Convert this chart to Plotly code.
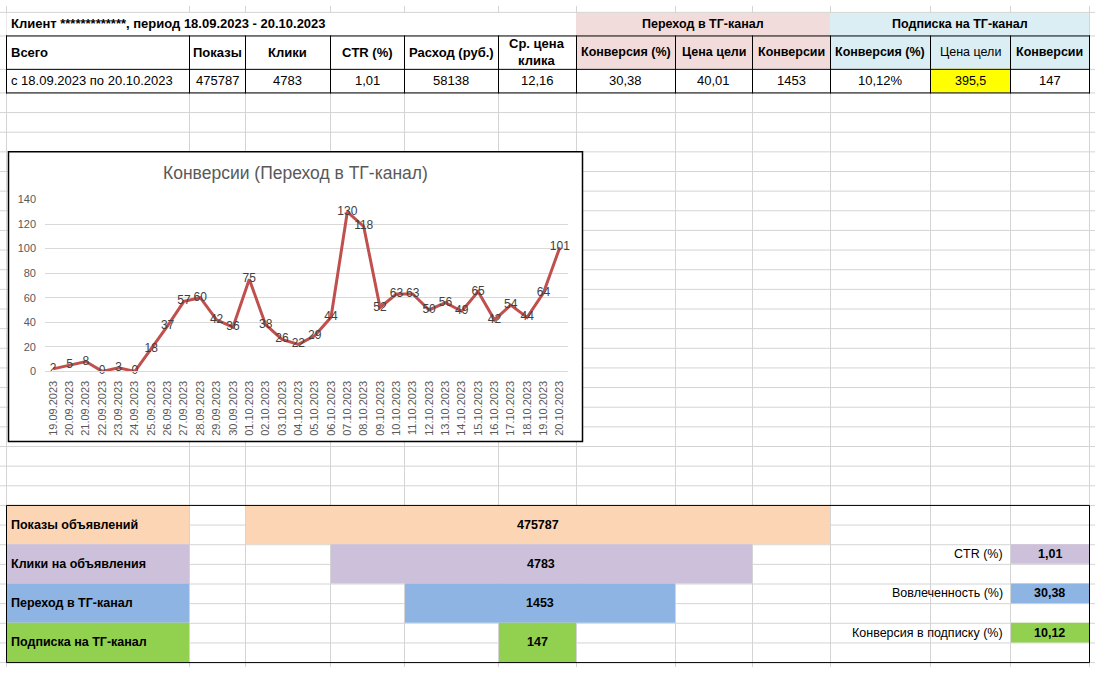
import plotly.graph_objects as go

W, H = 1095, 673

# ---------------- data ----------------
dates = ["19.09.2023", "20.09.2023", "21.09.2023", "22.09.2023", "23.09.2023", "24.09.2023",
         "25.09.2023", "26.09.2023", "27.09.2023", "28.09.2023", "29.09.2023", "30.09.2023",
         "01.10.2023", "02.10.2023", "03.10.2023", "04.10.2023", "05.10.2023", "06.10.2023",
         "07.10.2023", "08.10.2023", "09.10.2023", "10.10.2023", "11.10.2023", "12.10.2023",
         "13.10.2023", "14.10.2023", "15.10.2023", "16.10.2023", "17.10.2023", "18.10.2023",
         "19.10.2023", "20.10.2023"]
conversions = [2, 5, 8, 0, 3, 0, 18, 37, 57, 60, 42, 36, 75, 38, 26, 22, 29, 44,
               130, 118, 52, 63, 63, 50, 56, 49, 65, 42, 54, 44, 64, 101]
chart_title = "Конверсии (Переход в ТГ-канал)"

report_title = "Клиент *************, период 18.09.2023 - 20.10.2023"
group_headers = ["Переход в ТГ-канал", "Подписка на ТГ-канал"]
column_headers = ["Всего", "Показы", "Клики", "CTR (%)", "Расход (руб.)", "Ср. цена<br>клика",
                  "Конверсия (%)", "Цена цели", "Конверсии", "Конверсия (%)", "Цена цели", "Конверсии"]
row_values = ["с 18.09.2023 по 20.10.2023", "475787", "4783", "1,01", "58138", "12,16",
              "30,38", "40,01", "1453", "10,12%", "395,5", "147"]

funnel_labels = ["Показы объявлений", "Клики на объявления", "Переход в ТГ-канал", "Подписка на ТГ-канал"]
funnel_values = [475787, 4783, 1453, 147]
ratio_labels = ["CTR (%)", "Вовлеченность (%)", "Конверсия в подписку (%)"]
ratio_values = ["1,01", "30,38", "10,12"]

# ---------------- layout geometry (sheet pixels) ----------------
COLS = [6, 189, 245, 330, 404, 498, 576, 675, 752, 830, 930, 1010, 1089]
GRID_ROWS = [6, 30, 64, 88] + list(range(108, 669, 20))
GRID = "#D4D4D4"
BLACK = "#000000"
PINK, LBLUE, YELLOW = "#F2DCDB", "#DAEEF3", "#FFFF00"
FUNNEL_COLORS = ["#FCD5B4", "#CCC0DA", "#8DB4E2", "#92D050"]
FUNNEL_SPANS = [(245, 830), (330, 752), (404, 675), (498, 576)]
FUNNEL_TOP = 508
RATIO_ROWS = [548, 588, 628]
SANS = "Liberation Sans, Arial, sans-serif"

shapes = []


def line(x0, y0, x1, y1, color, width=1):
    shapes.append(dict(type="line", xref="x", yref="y", x0=x0, y0=y0, x1=x1, y1=y1,
                       line=dict(color=color, width=width), layer="below"))


def rect(x0, y0, x1, y1, fill, border=None, bw=1):
    shapes.append(dict(type="rect", xref="x", yref="y", x0=x0, y0=y0, x1=x1, y1=y1,
                       fillcolor=fill, line=dict(color=border or fill, width=bw if border else 0),
                       layer="below"))


# sheet gridlines
for c in COLS:
    line(c + 0.5, 0, c + 0.5, H, GRID)
for r in GRID_ROWS:
    line(0, r + 0.5, W, r + 0.5, GRID)

# title row
rect(6.5, 7, 576, 30, "white")
rect(576, 7, 830, 64, PINK)
rect(830, 7, 1089, 64, LBLUE)
rect(6.5, 31, 576, 64, "white")
rect(6.5, 65, 1089, 88, "white")
rect(930, 64, 1010, 88, YELLOW)
for r in [30, 64, 88]:
    line(6, r + 0.5, 1090, r + 0.5, BLACK)
for c in COLS:
    line(c + 0.5, 30, c + 0.5, 89, BLACK)

# chart box
rect(8.5, 148.5, 582.5, 443.5, "white", BLACK, 1.5)

# funnel block
for i, (lab, col) in enumerate(zip(funnel_labels, FUNNEL_COLORS)):
    y0 = FUNNEL_TOP + 40 * i
    rect(6.5, y0, 189, y0 + 40, col)
    x0, x1 = FUNNEL_SPANS[i]
    rect(x0 + 1, y0, x1, y0 + 40, col)
for i, r in enumerate(RATIO_ROWS):
    rect(1011, r, 1089, r + 20, FUNNEL_COLORS[i + 1])
rect(6.5, FUNNEL_TOP + 0.5, 1089.5, FUNNEL_TOP + 160.5, "rgba(0,0,0,0)", BLACK, 1)

# ---------------- annotations ----------------
annotations = []


def text(x, y, s, size=13, bold=False, anchor="center", color="#000000", family=SANS):
    annotations.append(dict(xref="x", yref="y", x=x, y=y, text=s, showarrow=False,
                            xanchor=anchor, yanchor="middle", align="center",
                            font=dict(family=family, size=size, color=color,
                                      weight="bold" if bold else "normal")))


text(9, 18, report_title, 13, True, "left")
text((576 + 830) / 2, 18, group_headers[0], 12.5, True)
text((830 + 1089) / 2, 18, group_headers[1], 12.5, True)

for i, h in enumerate(column_headers):
    cx = (COLS[i] + COLS[i + 1]) / 2
    if i == 0:
        text(9, 47, h, 13, True, "left")
    elif i < 6:
        text(cx, 47, h, 13, True)
    else:
        text(cx, 47, h, 12.5, i != 10)

for i, v in enumerate(row_values):
    cx = (COLS[i] + COLS[i + 1]) / 2
    if i == 0:
        text(9, 76, v, 13, False, "left")
    else:
        text(cx, 76, v, 13 if i != 10 else 12.5)

for i, (lab, val) in enumerate(zip(funnel_labels, funnel_values)):
    yc = FUNNEL_TOP + 40 * i + 20
    text(9, yc, lab, 12.5, True, "left")
    x0, x1 = FUNNEL_SPANS[i]
    text((x0 + x1) / 2, yc, str(val), 12.5, True)

for i, (lab, val) in enumerate(zip(ratio_labels, ratio_values)):
    yc = RATIO_ROWS[i] + 10
    text(1005, yc, lab, 12.5, False, "right")
    text(1049.5, yc, val, 12.5, True)

text(295, 170, chart_title, 17.5, False, "center", "#595959")

# ---------------- figure ----------------
fig = go.Figure()
fig.add_trace(go.Scatter(
    x=dates, y=conversions, text=[str(v) for v in conversions],
    mode="lines+text", textposition="middle center",
    textfont=dict(family=SANS, size=12, color="#404040"),
    line=dict(color="#C0504D", width=3), cliponaxis=False,
    xaxis="x2", yaxis="y2", hoverinfo="skip"))

fig.update_layout(
    width=W, height=H, margin=dict(l=0, r=0, t=0, b=0),
    paper_bgcolor="white", plot_bgcolor="rgba(0,0,0,0)", showlegend=False,
    xaxis=dict(domain=[0, 1], range=[0, W], visible=False, fixedrange=True),
    yaxis=dict(domain=[0, 1], range=[H, 0], visible=False, fixedrange=True),
    xaxis2=dict(domain=[45 / W, 568 / W], anchor="y2", type="category",
                range=[-0.5, len(dates) - 0.5], tickangle=-90, showgrid=False,
                showline=True, linecolor="#D9D9D9", ticks="", ticklabelstandoff=4,
                tickfont=dict(family=SANS, size=11, color="#595959")),
    yaxis2=dict(domain=[1 - 372 / H, 1 - 197 / H], anchor="x2", range=[0, 140], dtick=20,
                showgrid=True, gridcolor="#D9D9D9", zeroline=False, showline=False,
                ticks="", ticklabelstandoff=8,
                tickfont=dict(family=SANS, size=11, color="#595959")),
    shapes=shapes, annotations=annotations,
)

fig.write_html("out.html", config={"displayModeBar": False},
               post_script="document.body.style.margin='0';document.body.style.overflow='hidden';")
